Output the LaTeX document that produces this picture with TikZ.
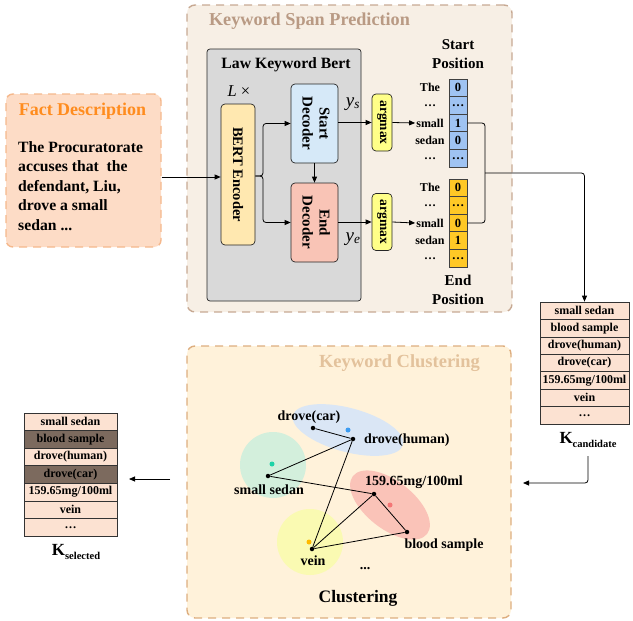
\documentclass[tikz,border=0pt]{standalone}
\usepackage{fontspec}
\setmainfont{Liberation Serif}
\usetikzlibrary{arrows.meta,shapes.geometric,calc}

\definecolor{factfill}{HTML}{FDDCC6}
\definecolor{factedge}{HTML}{F5B88C}
\definecolor{facttitle}{HTML}{FF8C1E}
\definecolor{spanfill}{HTML}{F7EFE5}
\definecolor{spanedge}{HTML}{C7A993}
\definecolor{spantitle}{HTML}{B99A84}
\definecolor{clufill}{HTML}{FFF2DA}
\definecolor{cluedge}{HTML}{DDAE7F}
\definecolor{clutitle}{HTML}{E3C29C}
\definecolor{bertgray}{HTML}{D9D9D9}
\definecolor{encfill}{HTML}{FFE8B0}
\definecolor{sdecfill}{HTML}{D6E9F8}
\definecolor{edecfill}{HTML}{F9C4B6}
\definecolor{argfill}{HTML}{FFFF88}
\definecolor{vecblue}{HTML}{9FC3F2}
\definecolor{vecyellow}{HTML}{FFC826}
\definecolor{kwfill}{HTML}{FCE2D2}
\definecolor{kwdark}{HTML}{7C6A5E}
\definecolor{ellblue}{HTML}{DAE6F5}
\definecolor{ellgreen}{HTML}{D3EFDC}
\definecolor{ellred}{HTML}{FAC3B8}
\definecolor{ellyellow}{HTML}{FAFAB2}
\definecolor{dotblue}{HTML}{3C9CF2}
\definecolor{dotgreen}{HTML}{1DD3A7}
\definecolor{dotred}{HTML}{F47676}
\definecolor{dotyellow}{HTML}{FFBA00}

\tikzset{
  panel/.style={rounded corners=8pt, line width=1.4pt, dash pattern=on 8pt off 6pt, inner sep=0pt},
  arr/.style={-{Triangle[length=6pt,width=5pt]}, line width=0.8pt},
  conn/.style={line width=0.8pt},
  blockbox/.style={draw=black!85, line width=0.7pt, rounded corners=4pt, inner sep=0pt},
  cell/.style={draw=black!75, line width=0.7pt, minimum width=18, minimum height=17.6, inner sep=0pt,
    font=\fontsize{12.5}{13}\selectfont\bfseries},
  wordlbl/.style={inner sep=1pt, font=\fontsize{12}{13}\selectfont\bfseries},
  kwrow/.style={draw=black!80, line width=0.7pt, inner sep=0pt, minimum height=17.43,
    font=\fontsize{12}{13}\selectfont\bfseries},
  ptlbl/.style={inner sep=0pt, font=\fontsize{14}{16}\selectfont\bfseries},
  kdot/.style={circle, fill=black, minimum size=4.5pt, inner sep=0pt},
  cdot/.style={circle, minimum size=5pt, inner sep=0pt},
  sublbl/.style={inner sep=0pt, font=\fontsize{17}{19}\selectfont\bfseries},
}

\begin{document}
\begin{tikzpicture}[x=1pt, y=-1pt, font=\bfseries]
\useasboundingbox (0,0) rectangle (633,621);

% ---------- fact description ----------
\node[panel, draw=factedge, fill=factfill, minimum width=155, minimum height=153, rounded corners=7pt]
  (fact) at (83.5,170.5) {};
\node[text=facttitle, font=\fontsize{18}{20}\selectfont\bfseries] (facttl) at (82.5,111) {Fact Description};
\node[anchor=north west, align=left, inner sep=0pt, font=\fontsize{15.7}{19.5}\selectfont\bfseries]
  (facttext) at (18,141) {The Procuratorate\\accuses that~ the\\defendant, Liu,\\drove a small\\sedan ...};

% ---------- keyword span prediction ----------
\node[panel, draw=spanedge, fill=spanfill, minimum width=325, minimum height=307] (span) at (349.5,158.5) {};
\node[text=spantitle, font=\fontsize{18.2}{20}\selectfont\bfseries] (spantl) at (309.5,21) {Keyword Span Prediction};

\node[draw=black!85, fill=bertgray, line width=0.7pt, rounded corners=3pt, minimum width=154, minimum height=252, inner sep=0pt]
  (bert) at (284,175) {};
\node[font=\fontsize{15.7}{17}\selectfont\bfseries] (berttl) at (286,65) {Law Keyword Bert};
\node[font=\fontsize{16.5}{17}\selectfont\mdseries] (lx) at (239,91) {\textit{L} ×};

\node[blockbox, fill=encfill, minimum width=34, minimum height=141] (enc) at (238,174.5)
  {\rotatebox[origin=c]{-90}{\fontsize{14.5}{16}\selectfont\bfseries BERT Encoder}};
\node[blockbox, fill=sdecfill, minimum width=47, minimum height=79] (sdec) at (314.5,123.5)
  {\rotatebox[origin=c]{-90}{\fontsize{15}{17}\selectfont\bfseries\begin{tabular}{@{}c@{}}Start\\Decoder\end{tabular}}};
\node[blockbox, fill=edecfill, minimum width=47, minimum height=79] (edec) at (314.5,222.5)
  {\rotatebox[origin=c]{-90}{\fontsize{15}{17}\selectfont\bfseries\begin{tabular}{@{}c@{}}End\\Decoder\end{tabular}}};

\node[font=\fontsize{19}{20}\selectfont\mdseries] (ys) at (353,104) {\textit{y}\textsubscript{\textit{s}}};
\node[font=\fontsize{19}{20}\selectfont\mdseries] (ye) at (353,239) {\textit{y}\textsubscript{\textit{e}}};

\node[blockbox, fill=argfill, minimum width=20, minimum height=57] (am1) at (382,122.5)
  {\rotatebox[origin=c]{-90}{\fontsize{13.5}{14}\selectfont\bfseries argmax}};
\node[blockbox, fill=argfill, minimum width=20, minimum height=57] (am2) at (382,222)
  {\rotatebox[origin=c]{-90}{\fontsize{13.5}{14}\selectfont\bfseries argmax}};

% position vectors with their token labels
\foreach \v/\w [count=\i] in {0/The, \ldots/\ldots, 1/small, 0/sedan, \ldots/\ldots} {
  \node[cell, fill=vecblue] (s\i) at (458,{79+17.6*(\i-0.5)}) {\v};
  \node[wordlbl] (sw\i) at (430,{79+17.6*(\i-0.5)}) {\w};
}
\foreach \v/\w [count=\i] in {0/The, \ldots/\ldots, 0/small, 1/sedan, \ldots/\ldots} {
  \node[cell, fill=vecyellow] (e\i) at (458,{179+17.6*(\i-0.5)}) {\v};
  \node[wordlbl] (ew\i) at (430,{179+17.6*(\i-0.5)}) {\w};
}
\node[align=center, font=\fontsize{15}{18.5}\selectfont\bfseries] (startpos) at (458,54) {Start\\Position};
\node[align=center, font=\fontsize{15}{18.5}\selectfont\bfseries] (endpos) at (458,290) {End\\Position};

% flow inside the span module
\draw[arr] (fact.east |- 0,177) -- (enc.west |- 0,177);
\draw[arr, rounded corners=3pt] (enc.east |- 0,176) -- (263,176) |- (sdec.west);
\draw[arr, rounded corners=3pt] (enc.east |- 0,176) -- (263,176) |- (edec.west);
\draw[arr] (sdec.south) -- (edec.north);
\draw[arr] (sdec.east |- am1.west) -- (am1.west);
\draw[arr] (edec.east |- am2.west) -- (am2.west);
\draw[arr] (am1.east) -- (sw3.west);
\draw[arr] (am2.east) -- (ew3.west);

\coordinate (join) at (485,173);
\draw[conn, rounded corners=3pt] (s3.east) -| (join) |- (e3.east);

% ---------- candidate keywords ----------
\foreach \t [count=\i] in {small sedan, blood sample, drove(human), drove(car), {159.65mg/100ml}, vein, \ldots} {
  \node[kwrow, fill=kwfill, minimum width=89] (kc\i) at (584.5,{302+17.43*(\i-0.5)}) {\t};
}
\node[sublbl] (kcl) at (588,440)
  {K\raisebox{-0.45ex}{\fontsize{10.5}{11}\selectfont\bfseries candidate}};
\draw[arr, rounded corners=3pt] (join) -| (kc1.north);

\coordinate (kcout) at (588,456);
\coordinate (cluin) at (523,483);
\draw[arr, rounded corners=3pt] (kcout) |- (cluin);

% ---------- keyword clustering ----------
\node[panel, draw=cluedge, fill=clufill, minimum width=324, minimum height=272] (clu) at (349,482) {};
\node[text=clutitle, font=\fontsize{18.5}{20}\selectfont\bfseries] (clutl) at (399.5,363) {Keyword Clustering};
\node[font=\fontsize{17.5}{19}\selectfont\bfseries] (cluname) at (358,598) {Clustering};

\node[ellipse, fill=ellblue, minimum width=114, minimum height=44, inner sep=0pt, rotate=-15] (ellb) at (348,430) {};
\node[circle, fill=ellgreen, minimum size=66, inner sep=0pt] (ellg) at (273,465) {};
\node[ellipse, fill=ellred, minimum width=94, minimum height=48, inner sep=0pt, rotate=-38] (ellr) at (390,505) {};
\node[circle, fill=ellyellow, minimum size=66, inner sep=0pt] (elly) at (310,542) {};

\node[cdot, fill=dotblue] (cb) at (348,430) {};
\node[cdot, fill=dotgreen] (cg) at (272,464) {};
\node[cdot, fill=dotred] (cr) at (390,505) {};
\node[cdot, fill=dotyellow] (cy) at (309,542) {};

\node[kdot] (pdc) at (313,428) {};
\node[kdot] (pdh) at (353,439) {};
\node[kdot] (pss) at (268,476) {};
\node[kdot] (pmg) at (374,494) {};
\node[kdot] (pbs) at (407,532) {};
\node[kdot] (pvn) at (312,549) {};

\draw[conn] (pdc) -- (pdh);
\draw[conn] (pdh) -- (pss);
\draw[conn] (pdh) -- (pvn);
\draw[conn] (pss) -- (pmg);
\draw[conn] (pmg) -- (pvn);
\draw[conn] (pmg) -- (pbs);
\draw[conn] (pbs) -- (pvn);

\node[ptlbl] (ldc) at (309,417) {drove(car)};
\node[ptlbl, anchor=west] (ldh) at (364,440) {drove(human)};
\node[ptlbl] (lss) at (269,490) {small sedan};
\node[ptlbl, anchor=west] (lmg) at (365,482) {159.65mg/100ml};
\node[ptlbl] (lbs) at (444,545) {blood sample};
\node[ptlbl] (lvn) at (313,561) {vein};
\node[ptlbl] (ldots) at (365,569) {...};

% ---------- selected keywords ----------
\foreach \t/\f [count=\i] in {small sedan/kwfill, blood sample/kwdark, drove(human)/kwfill, drove(car)/kwdark,
    {159.65mg/100ml}/kwfill, vein/kwfill, \ldots/kwfill} {
  \node[kwrow, fill=\f, minimum width=93, minimum height=17.57] (ks\i) at (70.5,{413+17.57*(\i-0.5)}) {\t};
}
\node[sublbl] (ksl) at (76,552)
  {K\raisebox{-0.45ex}{\fontsize{10.5}{11}\selectfont\bfseries selected}};

\coordinate (cluout) at (170,479);
\coordinate (ksin) at (129,479);
\draw[arr] (cluout) -- (ksin);
\end{tikzpicture}
\end{document}
